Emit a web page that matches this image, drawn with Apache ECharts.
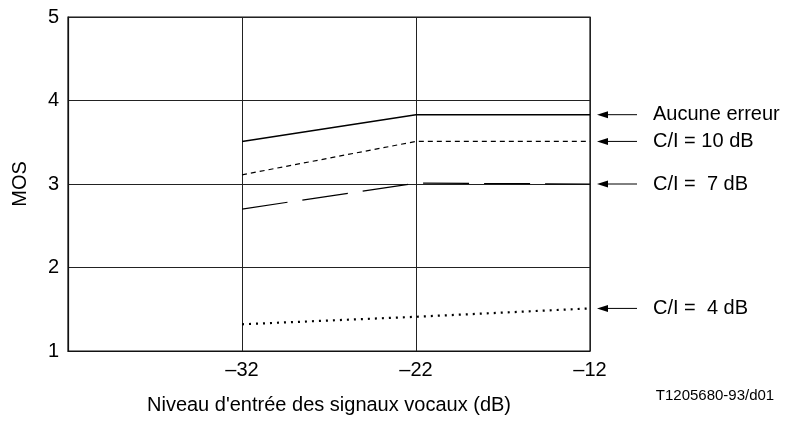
<!DOCTYPE html>
<html>
<head>
    <meta charset="utf-8">
    <title>MOS</title>
    <script src="https://cdn.jsdelivr.net/npm/echarts@6/dist/echarts.min.js"></script>
</head>
<body style="margin:0;background:#fff;">
<div id="main" style="width: 785px;height:421px;"></div>
<script type="text/javascript">
    // niveaux d'entrée (dB)
    var niveaux = [-32, -22, -12];
    var aucuneErreur = [3.51, 3.83, 3.83];
    var ci10 = [3.11, 3.51, 3.51];
    var ci7 = [2.70, 3.01, 3.00];
    var ci4 = [1.32, 1.41, 1.51];
    var etiquettes = ['Aucune erreur', 'C/I = 10 dB', 'C/I =  7 dB', 'C/I =  4 dB'];

    var myChart = echarts.init(document.getElementById('main'));
    var police = 'Liberation Sans, Arial, sans-serif';

    function paires(vals) {
        return niveaux.map(function (x, i) { return [x, vals[i]]; });
    }

    function serie(nom, vals, width, dash) {
        return {
            name: nom,
            type: 'line',
            data: paires(vals),
            symbol: 'none',
            silent: true,
            lineStyle: { color: '#000', width: width, type: dash }
        };
    }

    var series = [
        serie(etiquettes[0], aucuneErreur, 1.5, 'solid'),
        serie(etiquettes[1], ci10, 1.2, [5, 4]),
        serie(etiquettes[2], ci7, 1.2, [46, 15]),
        serie(etiquettes[3], ci4, 2.2, [2, 5])
    ];

    option = {
        animation: false,
        grid: {
            left: 68, right: 195, top: 17, bottom: 70,
            show: true, borderColor: '#111', borderWidth: 1.2
        },
        xAxis: {
            type: 'value', min: -42, max: -12, interval: 10,
            name: "Niveau d'entrée des signaux vocaux (dB)",
            nameLocation: 'middle', nameGap: 44, nameMoveOverlap: false,
            nameTextStyle: { fontFamily: police, fontSize: 20, color: '#000' },
            axisLine: { lineStyle: { color: '#111', width: 1.2 } },
            axisTick: { show: false },
            splitLine: { lineStyle: { color: '#222', width: 1 } },
            axisLabel: {
                fontFamily: police, fontSize: 20, color: '#000', margin: 9,
                formatter: function (v) { return v === -42 ? '' : '\u2013' + Math.abs(v); }
            }
        },
        yAxis: {
            type: 'value', min: 1, max: 5, interval: 1,
            name: 'MOS', nameLocation: 'middle', nameGap: 38, nameMoveOverlap: false,
            nameTextStyle: { fontFamily: police, fontSize: 20, color: '#000' },
            axisLine: { show: true, lineStyle: { color: '#111', width: 1.2 } },
            axisTick: { show: false },
            splitLine: { lineStyle: { color: '#222', width: 1 } },
            axisLabel: { fontFamily: police, fontSize: 20, color: '#000', margin: 9 }
        },
        series: series
    };
    myChart.setOption(option);

    // flèches et étiquettes à droite
    var finales = [aucuneErreur[2], ci10[2], ci7[2], ci4[2]];
    var graphics = [];
    finales.forEach(function (v, i) {
        var y = myChart.convertToPixel({ gridIndex: 0 }, [-12, v])[1];
        graphics.push({
            type: 'line', shape: { x1: 605, y1: y, x2: 637, y2: y },
            style: { stroke: '#000', lineWidth: 1 }
        });
        graphics.push({
            type: 'polygon', shape: { points: [[597, y], [608, y - 3.5], [608, y + 3.5]] },
            style: { fill: '#000' }
        });
        graphics.push({
            type: 'text', x: 653, y: y,
            style: { text: etiquettes[i], font: '20px ' + police, fill: '#000', textVerticalAlign: 'middle' }
        });
    });
    graphics.push({
        type: 'text', x: 715, y: 396,
        style: { text: 'T1205680-93/d01', font: '15px ' + police, fill: '#000', textAlign: 'center', textVerticalAlign: 'middle' }
    });
    myChart.setOption({ graphic: graphics });
</script>
</body>
</html>
